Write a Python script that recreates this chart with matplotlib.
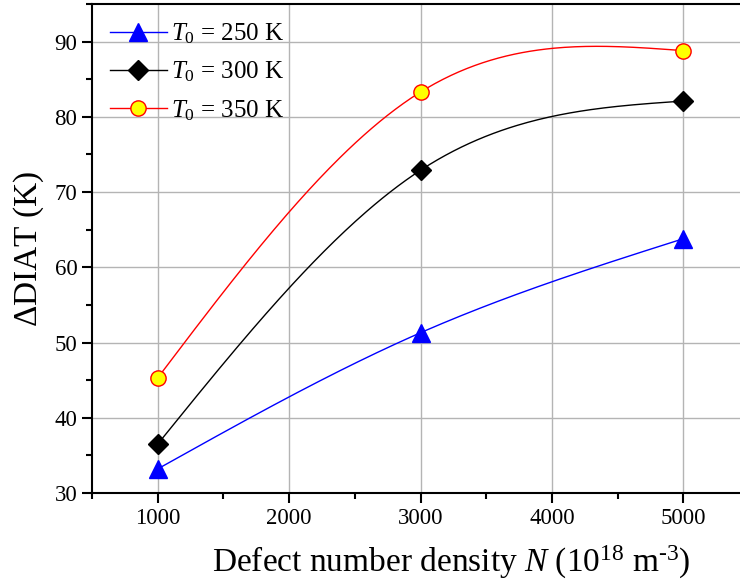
import numpy as np
import matplotlib
matplotlib.use("Agg")
import matplotlib.pyplot as plt
from matplotlib.ticker import MultipleLocator

plt.rcParams['font.family'] = ['Liberation Serif', 'DejaVu Serif']
plt.rcParams['mathtext.fontset'] = 'custom'
plt.rcParams['mathtext.rm'] = 'Liberation Serif'
plt.rcParams['mathtext.it'] = 'Liberation Serif:italic'

density = [1000, 3000, 5000]
diat_250 = [33.2, 51.3, 63.8]
diat_300 = [36.5, 72.9, 82.1]
diat_350 = [45.3, 83.3, 88.8]
x_ticks = [1000, 2000, 3000, 4000, 5000]
y_ticks = [30, 40, 50, 60, 70, 80, 90]


def natural_spline(x, y, n=200):
    x = np.asarray(x, float)
    y = np.asarray(y, float)
    k = len(x)
    h = np.diff(x)
    A = np.zeros((k, k))
    b = np.zeros(k)
    A[0, 0] = A[-1, -1] = 1.0
    for i in range(1, k - 1):
        A[i, i - 1] = h[i - 1]
        A[i, i] = 2 * (h[i - 1] + h[i])
        A[i, i + 1] = h[i]
        b[i] = 6 * ((y[i + 1] - y[i]) / h[i] - (y[i] - y[i - 1]) / h[i - 1])
    M = np.linalg.solve(A, b)
    xs = np.linspace(x[0], x[-1], n)
    ys = np.empty_like(xs)
    for j, xv in enumerate(xs):
        i = min(np.searchsorted(x, xv, side='right') - 1, k - 2)
        t0 = x[i + 1] - xv
        t1 = xv - x[i]
        ys[j] = (M[i] * t0 ** 3 + M[i + 1] * t1 ** 3) / (6 * h[i]) \
            + (y[i] / h[i] - M[i] * h[i] / 6) * t0 \
            + (y[i + 1] / h[i] - M[i + 1] * h[i] / 6) * t1
    return xs, ys


fig = plt.figure(figsize=(7.4, 5.8), dpi=100)
ax = fig.add_axes([92 / 740, 1 - 493 / 580, (749 - 92) / 740, (493 - 4) / 580])

series = [
    (diat_250, dict(color='blue', marker='^', ms=13, mfc='blue', mec='blue'), '$T_{\\mathit{0}}$ = 250 K'),
    (diat_300, dict(color='black', marker='D', ms=10, mfc='black', mec='black'), '$T_{\\mathit{0}}$ = 300 K'),
    (diat_350, dict(color='red', marker='o', ms=11, mfc='yellow', mec='red'), '$T_{\\mathit{0}}$ = 350 K'),
]
for vals, st, lab in series:
    xs, ys = natural_spline(density, vals)
    ax.plot(xs, ys, color=st['color'], lw=1.0, zorder=3)
    ax.plot(density, vals, linestyle='none', marker=st['marker'], ms=st['ms'],
            mfc=st['mfc'], mec=st['mec'], mew=1.0, zorder=4)
    ax.plot([], [], color=st['color'], lw=1.0, marker=st['marker'], ms=st['ms'],
            mfc=st['mfc'], mec=st['mec'], mew=1.0, label=lab)

ax.set_xlim(500, 5500)
ax.set_ylim(30, 95)
ax.set_xticks(x_ticks)
ax.set_yticks(y_ticks)
ax.xaxis.set_minor_locator(MultipleLocator(500))
ax.yaxis.set_minor_locator(MultipleLocator(5))
ax.tick_params(which='both', direction='out', width=1.5, labelsize=16.5)
ax.tick_params(which='major', length=7)
ax.tick_params(which='minor', length=4)
ax.grid(True, which='major', color='#b4b4b4', lw=1.0)
ax.set_axisbelow(True)
for s in ax.spines.values():
    s.set_linewidth(1.5)

ax.set_xlabel('Defect number density $N$ (10$^{18}$ m$^{\\text{-}3}$)', fontsize=24)
ax.xaxis.set_label_coords(0.546, -0.105)
ax.set_ylabel('$\\Delta$DIAT (K)', fontsize=24, labelpad=6)

leg = ax.legend(loc='upper left', frameon=False, fontsize=18, handlelength=2.3,
                borderaxespad=0.4, labelspacing=0.55, handletextpad=0.15,
                borderpad=0.3)

fig.savefig('out.png', dpi=100)
